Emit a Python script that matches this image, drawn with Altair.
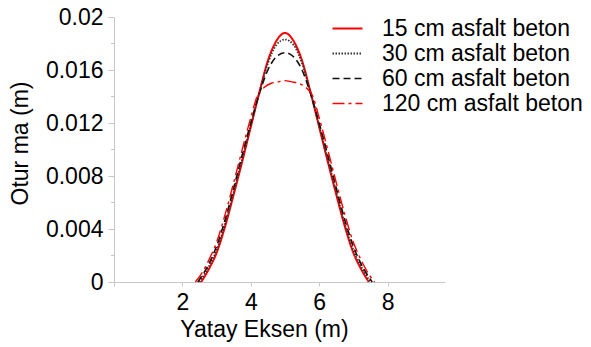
import altair as alt
import pandas as pd

series = ["15 cm asfalt beton", "30 cm asfalt beton", "60 cm asfalt beton", "120 cm asfalt beton"]

x15 = [2.55, 2.8, 3.0, 3.25, 3.5, 3.75, 4.0, 4.25, 4.5, 4.75, 5.0, 5.25, 5.5, 5.75, 6.0, 6.25, 6.5, 6.75, 7.0, 7.2, 7.45]
y15 = [0, .0011, .0022, .0042, .0066, .0091, .0117, .0143, .0167, .0182, .0188, .0182, .0167, .0143, .0117, .0091, .0066, .0042, .0022, .0011, 0]

x30 = [2.5, 2.8, 3.0, 3.25, 3.5, 3.75, 4.0, 4.25, 4.5, 4.75, 5.0, 5.25, 5.5, 5.75, 6.0, 6.25, 6.5, 6.75, 7.0, 7.2, 7.5]
y30 = [0, .0013, .0024, .0044, .0068, .0093, .0118, .0143, .0165, .0179, .0183, .0179, .0165, .0143, .0118, .0093, .0068, .0044, .0024, .0013, 0]

x60 = [2.45, 2.8, 3.0, 3.25, 3.5, 3.75, 4.0, 4.25, 4.5, 4.75, 5.0, 5.25, 5.5, 5.75, 6.0, 6.25, 6.5, 6.75, 7.0, 7.2, 7.55]
y60 = [0, .0015, .0027, .0047, .0071, .0096, .0120, .0142, .0160, .0170, .0173, .0170, .0160, .0142, .0120, .0096, .0071, .0047, .0027, .0015, 0]

x120 = [2.38, 2.6, 2.8, 3.0, 3.25, 3.5, 3.75, 4.0, 4.2, 4.4, 4.6, 4.8, 5.0, 5.2, 5.4, 5.6, 5.8, 6.0, 6.25, 6.5, 6.75, 7.0, 7.2, 7.4, 7.62]
y120 = [0, .0008, .0018, .0030, .0051, .0075, .0100, .0124, .0141, .0147, .0150, .0151, .0152, .0151, .0150, .0147, .0141, .0124, .0100, .0075, .0051, .0030, .0018, .0008, 0]

y_major = [0, 0.004, 0.008, 0.012, 0.016, 0.02]
y_minor = [0.002, 0.006, 0.010, 0.014, 0.018]
x_ticks = [0, 2, 4, 6, 8]

rows = []
for name, xs, ys, order in zip(series, [x15, x30, x60, x120], [y15, y30, y60, y120], [4, 3, 2, 1]):
    for xv, yv in zip(xs, ys):
        rows.append({"seri": name, "x": xv, "y": yv, "o": order})
df = pd.DataFrame(rows)
minor_df = pd.DataFrame({"y": y_minor})

FONT = "Liberation Sans"
GRAY = "#c8c8c8"

xscale = alt.Scale(domain=[0, 9.68], nice=False, zero=False)
yscale = alt.Scale(domain=[0, 0.02], nice=False)

legend_opts = dict(title=None, orient="none", legendX=222, legendY=0,
                   symbolType="M-2,0H2", symbolSize=225,
                   symbolStrokeWidth=2, labelFontSize=23,
                   labelFont=FONT, labelColor="#000000",
                   labelOffset=23, rowPadding=1, padding=0,
                   labelLimit=400)

lines = alt.Chart(df).mark_line(interpolate="monotone").encode(
    x=alt.X("x:Q", scale=xscale,
            axis=alt.Axis(values=x_ticks, title="Yatay Eksen (m)",
                          labelExpr="datum.value == 0 ? '' : datum.label",
                          tickSize=4, labelPadding=5, grid=False,
                          titleX=150, titleY=54, titleBaseline="alphabetic")),
    y=alt.Y("y:Q", scale=yscale,
            axis=alt.Axis(values=y_major, title="Otur ma (m)", format="~g",
                          tickSize=6, labelPadding=5, grid=False,
                          titleX=-87, titleY=126, titleBaseline="alphabetic",
                          titleAngle=270, titleAlign="center")),
    color=alt.Color("seri:N", scale=alt.Scale(domain=series,
                    range=["#ff0000", "#333333", "#111111", "#ff0000"]),
                    legend=alt.Legend(**legend_opts)),
    strokeDash=alt.StrokeDash("seri:N", scale=alt.Scale(domain=series,
                              range=[[1, 0], [1.5, 1.5], [7, 4], [12, 4, 3, 4]]),
                              legend=alt.Legend(**legend_opts)),
    strokeWidth=alt.StrokeWidth("seri:N", scale=alt.Scale(domain=series, range=[2, 1.4, 2, 2]), legend=None),
    order=alt.Order("o:Q"),
)

minor = alt.Chart(minor_df).mark_rule(color=GRAY, strokeWidth=1).encode(
    y=alt.Y("y:Q", scale=yscale),
    x=alt.value(-3),
    x2=alt.value(0),
)

chart = alt.layer(minor, lines).properties(
    width=331, height=265,
    autosize=alt.AutoSizeParams(type="none"),
    padding={"left": 114, "top": 17, "right": 146, "bottom": 65},
).configure_view(stroke=None).configure_axis(
    domainColor=GRAY, tickColor=GRAY, labelFont=FONT, titleFont=FONT,
    labelFontSize=23, titleFontSize=23, labelColor="#000000", titleColor="#000000",
    titleFontWeight="normal",
)

chart.save("out.html", embed_options={"renderer": "svg", "actions": False})
